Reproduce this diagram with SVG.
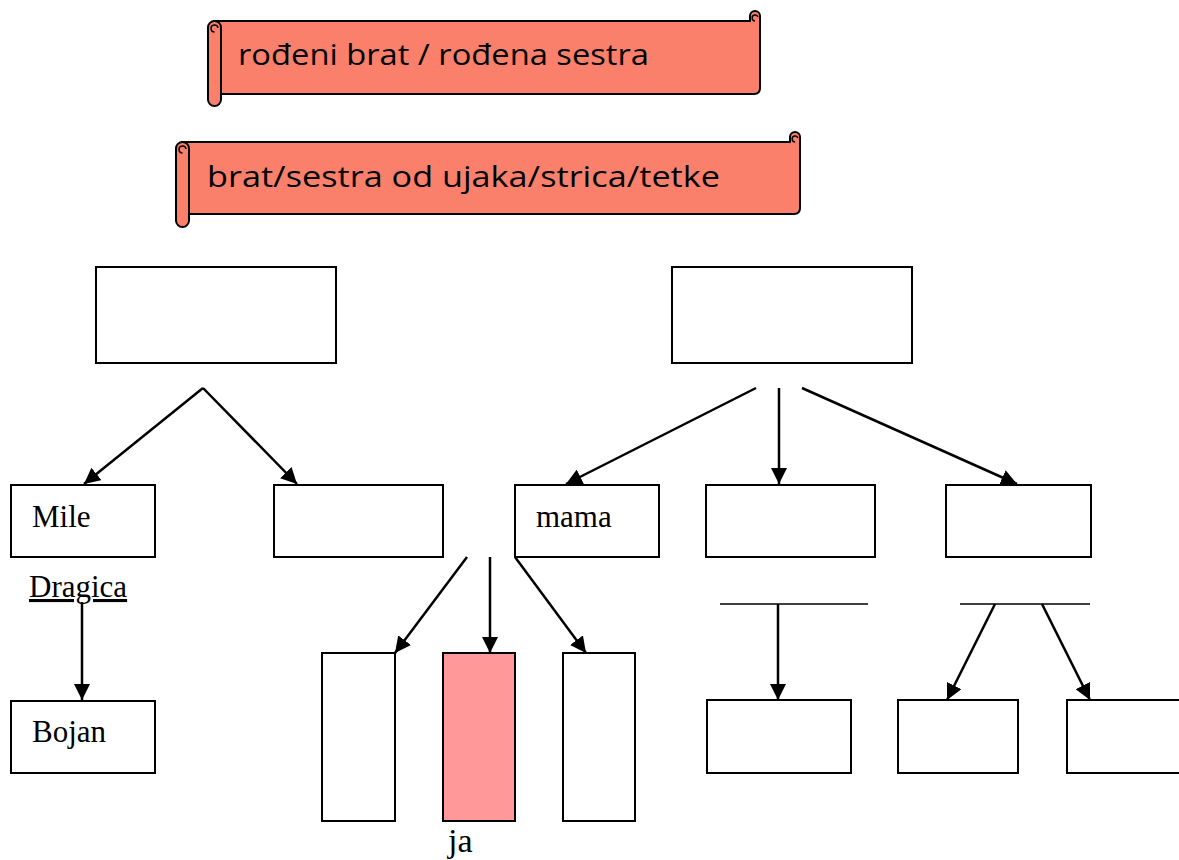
<svg xmlns="http://www.w3.org/2000/svg" width="1179" height="860" viewBox="0 0 1179 860">
<style>
.box{fill:#fff;stroke:#000;stroke-width:2}
.me{fill:#ff9999;stroke:#000;stroke-width:2}
.scroll{fill:#fa806b;stroke:#000;stroke-width:2;stroke-linejoin:round}
.curl{fill:none;stroke:#000;stroke-width:1.5}
.lbl{font-family:"Liberation Serif","Times New Roman",serif;font-size:31px;fill:#000}
.stx{font-family:"Comic Sans MS","Open Sans",sans-serif;font-size:29px;fill:#000}
.con line{stroke:#000;stroke-width:2.5}
.arr{marker-end:url(#ah)}
</style>
<defs>
<marker id="ah" markerUnits="userSpaceOnUse" markerWidth="18" markerHeight="16" refX="16" refY="8" orient="auto">
<path d="M0,0 L16,8 L0,16 Z" fill="#000"/>
</marker>
</defs>

<g id="scroll1">
<path class="scroll" d="M214 21 H750 V16 A5 5 0 0 1 760 16 V88 Q760 94 754 94 H214 Z"/>
<path class="curl" d="M755 21 A3 3 0 1 1 758 17"/>
<rect class="scroll" x="208" y="21" width="13" height="85" rx="6.5"/>
<path class="curl" d="M214.5 32 A3.5 3.5 0 1 1 218 28"/>
<text class="stx" x="238" y="65" textLength="411" lengthAdjust="spacingAndGlyphs">rođeni brat / rođena sestra</text>
</g>

<g id="scroll2">
<path class="scroll" d="M182 142 H790 V137 A5 5 0 0 1 800 137 V208 Q800 214 794 214 H182 Z"/>
<path class="curl" d="M795 142 A3 3 0 1 1 798 138"/>
<rect class="scroll" x="176" y="142" width="13" height="85" rx="6.5"/>
<path class="curl" d="M182.5 153 A3.5 3.5 0 1 1 186 149"/>
<text class="stx" x="207" y="187" textLength="513" lengthAdjust="spacingAndGlyphs">brat/sestra od ujaka/strica/tetke</text>
</g>

<g id="gp-left"><rect class="box" x="96" y="267" width="240" height="96"/></g>
<g id="gp-right"><rect class="box" x="672" y="267" width="240" height="96"/></g>

<g id="mile"><rect class="box" x="11" y="485" width="144" height="72"/><text class="lbl" x="32" y="527">Mile</text></g>
<g id="sibling-left"><rect class="box" x="274" y="485" width="169" height="72"/></g>
<g id="mama"><rect class="box" x="515" y="485" width="144" height="72"/><text class="lbl" x="536" y="527">mama</text></g>
<g id="aunt1"><rect class="box" x="706" y="485" width="169" height="72"/></g>
<g id="aunt2"><rect class="box" x="946" y="485" width="145" height="72"/></g>

<g id="dragica"><text class="lbl" x="29" y="597" text-decoration="underline">Dragica</text></g>

<g id="bojan"><rect class="box" x="11" y="701" width="144" height="72"/><text class="lbl" x="32" y="742">Bojan</text></g>

<g id="sib1"><rect class="box" x="322" y="653" width="73" height="168"/></g>
<g id="ja"><rect class="me" x="443" y="653" width="72" height="168"/><text class="lbl" x="448" y="852" style="font-size:34px">ja</text></g>
<g id="sib3"><rect class="box" x="563" y="653" width="72" height="168"/></g>

<g id="cousin1"><rect class="box" x="707" y="700" width="144" height="73"/></g>
<g id="cousin2"><rect class="box" x="898" y="700" width="120" height="73"/></g>
<g id="cousin3"><rect class="box" x="1067" y="700" width="120" height="73"/></g>

<g id="connectors" class="con">
<line class="arr" x1="203" y1="388" x2="84" y2="484"/>
<line class="arr" x1="203" y1="388" x2="297" y2="484"/>
<line class="arr" x1="756" y1="388" x2="566" y2="484"/>
<line class="arr" x1="779" y1="388" x2="779" y2="484"/>
<line class="arr" x1="802" y1="388" x2="1017" y2="484"/>
<line class="arr" x1="467" y1="557" x2="395" y2="653"/>
<line class="arr" x1="490" y1="557" x2="490" y2="653"/>
<line class="arr" x1="515" y1="557" x2="586" y2="653"/>
<line class="arr" x1="82" y1="602" x2="82" y2="700"/>
<line x1="720" y1="604" x2="868" y2="604" style="stroke-width:1.5"/>
<line class="arr" x1="778" y1="604" x2="778" y2="700"/>
<line x1="960" y1="604" x2="1090" y2="604" style="stroke-width:1.5"/>
<line class="arr" x1="995" y1="604" x2="947" y2="700"/>
<line class="arr" x1="1042" y1="604" x2="1090" y2="700"/>
</g>
</svg>
